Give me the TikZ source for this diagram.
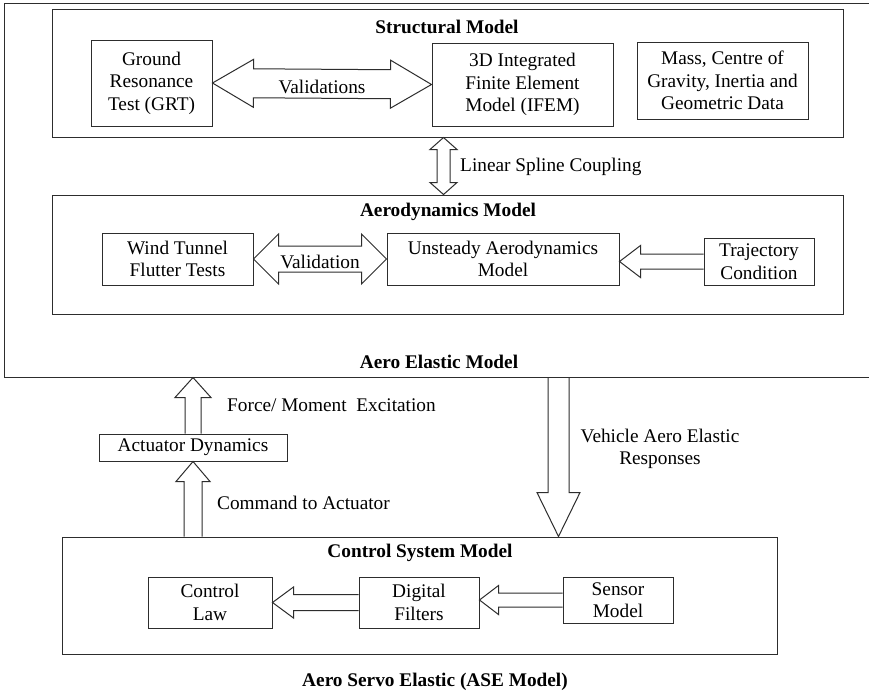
\documentclass[tikz,border=0pt]{standalone}
\usepackage{fontspec}
\setmainfont{LiberationSerif}[Extension=.ttf, UprightFont=*-Regular, BoldFont=*-Bold, ItalicFont=*-Italic, BoldItalicFont=*-BoldItalic]
\usepackage{tikz}
\usetikzlibrary{calc, positioning}
\definecolor{dark}{RGB}{45,45,45}
\tikzset{
    box/.style={rectangle, draw=dark, line width=1pt, inner sep=1pt, text centered, align=center, font=\fontsize{19.3}{22.5}\selectfont},
    frame/.style={rectangle, draw=dark, line width=1pt, inner sep=0pt},
    heading/.style={font=\fontsize{19.3}{22.5}\selectfont\bfseries, inner sep=0pt},
    tag/.style={font=\fontsize{19.3}{22.5}\selectfont, inner sep=0pt, align=center},
    arrowline/.style={draw=dark, line width=1pt, line join=miter}
}
% hollow block arrow: from, to, shaft half width, head half width, head length
\newcommand{\blockarrow}[5]{%
    \coordinate (ba-a) at (#1);
    \coordinate (ba-b) at (#2);
    \coordinate (ba-m) at ($(ba-b)!#5!(ba-a)$);
    \draw[arrowline] ($(ba-a)!#3!90:(ba-b)$) -- ($(ba-m)!#3!90:(ba-b)$) -- ($(ba-m)!#4!90:(ba-b)$) -- (ba-b) -- ($(ba-m)!#4!-90:(ba-b)$) -- ($(ba-m)!#3!-90:(ba-b)$) -- ($(ba-a)!#3!-90:(ba-b)$);
}
% hollow block arrow with two heads
\newcommand{\doubleblockarrow}[5]{%
    \coordinate (da-a) at (#1);
    \coordinate (da-b) at (#2);
    \coordinate (da-m) at ($(da-a)!#5!(da-b)$);
    \coordinate (da-n) at ($(da-b)!#5!(da-a)$);
    \draw[arrowline] (da-a) -- ($(da-m)!#4!90:(da-b)$) -- ($(da-m)!#3!90:(da-b)$) -- ($(da-n)!#3!90:(da-b)$) -- ($(da-n)!#4!90:(da-b)$) -- (da-b) -- ($(da-n)!#4!-90:(da-b)$) -- ($(da-n)!#3!-90:(da-b)$) -- ($(da-m)!#3!-90:(da-b)$) -- ($(da-m)!#4!-90:(da-b)$) -- cycle;
}

\begin{document}
\begin{tikzpicture}[x=1pt, y=-1pt]
    \fill[white] (0,0) rectangle (869,694);
    \useasboundingbox (0,0) rectangle (869,694);

    % Aero Elastic frame
    \node[frame, minimum width=866pt, minimum height=374pt] (aeroelastic) at (437,190) {};
    \node[heading] (aetitle) at (439,362) {Aero Elastic Model};

    % Structural Model
    \node[frame, minimum width=791pt, minimum height=128pt] (structural) at (447.5,73) {};
    \node[heading] (sttitle) at (447,27) {Structural Model};
    \node[box, minimum width=121pt, minimum height=86pt] (grt) at (151.5,83) {Ground\\ Resonance\\ Test (GRT)};
    \node[box, minimum width=181pt, minimum height=83pt] (ifem) at (522.5,84.5) {3D Integrated\\ Finite Element\\ Model (IFEM)};
    \node[box, minimum width=171pt, minimum height=77pt] (mass) at (722.5,80.5) {Mass, Centre of\\ Gravity, Inertia and\\ Geometric Data};

    % Aerodynamics Model
    \node[frame, minimum width=791pt, minimum height=119pt] (aerodyn) at (447.5,254.5) {};
    \node[heading] (adtitle) at (448,212) {Aerodynamics Model};
    \node[box, minimum width=151pt, minimum height=52pt] (wind) at (177.5,259) {Wind Tunnel\\ Flutter Tests};
    \node[box, minimum width=232pt, minimum height=52pt] (unsteady) at (503,259) {Unsteady Aerodynamics\\ Model};
    \node[box, minimum width=110pt, minimum height=47pt] (traj) at (759,261.5) {Trajectory\\ Condition};

    % Actuator
    \node[box, minimum width=188pt, minimum height=27pt] (actuator) at (193,447.5) {Actuator Dynamics};

    % Control System Model
    \node[frame, minimum width=715pt, minimum height=117pt] (control) at (419.5,595.5) {};
    \node[heading] (cstitle) at (420,553) {Control System Model};
    \node[box, minimum width=124pt, minimum height=51pt] (claw) at (210,602.5) {Control\\ Law};
    \node[box, minimum width=120pt, minimum height=51pt] (digital) at (419,602.5) {Digital\\ Filters};
    \node[box, minimum width=110pt, minimum height=46pt] (sensor) at (618,600) {Sensor\\ Model};
    \node[heading] (asetitle) at (435,682) {Aero Servo Elastic (ASE Model)};

    % Connections
    \doubleblockarrow{grt.east}{ifem.west}{14.5pt}{24pt}{41pt}
    \node[tag] (valtext1) at ($(grt.east)!0.5!(ifem.west)+(0,3)$) {Validations};
    \doubleblockarrow{[xshift=-4pt]structural.south}{[xshift=-4pt]aerodyn.north}{6.5pt}{13.5pt}{12pt}
    \node[tag, anchor=west] (spline) at (460,167) {Linear Spline Coupling};
    \doubleblockarrow{wind.east}{unsteady.west}{13pt}{25pt}{25pt}
    \node[tag] (valtext2) at ($(wind.east)!0.5!(unsteady.west)+(0,3)$) {Validation};
    \blockarrow{traj.west}{traj.west -| unsteady.east}{7.5pt}{16pt}{21pt}

    \blockarrow{actuator.north}{actuator.north |- aeroelastic.south}{8pt}{18pt}{20pt}
    \node[tag, anchor=west] (force) at (227,405) {Force/ Moment~~Excitation};
    \blockarrow{actuator.south |- control.north}{actuator.south}{9pt}{17pt}{20pt}
    \node[tag, anchor=west] (command) at (217,503) {Command to Actuator};
    \coordinate (resp) at (558.5,0);
    \blockarrow{resp |- aeroelastic.south}{resp |- control.north}{10.5pt}{21.5pt}{44pt}
    \node[tag] (vehicle) at (660,449) {Vehicle Aero Elastic\\ Responses};

    \blockarrow{digital.west}{claw.east}{8pt}{15.5pt}{21pt}
    \blockarrow{sensor.west}{sensor.west -| digital.east}{7pt}{14.5pt}{19pt}
\end{tikzpicture}
\end{document}
